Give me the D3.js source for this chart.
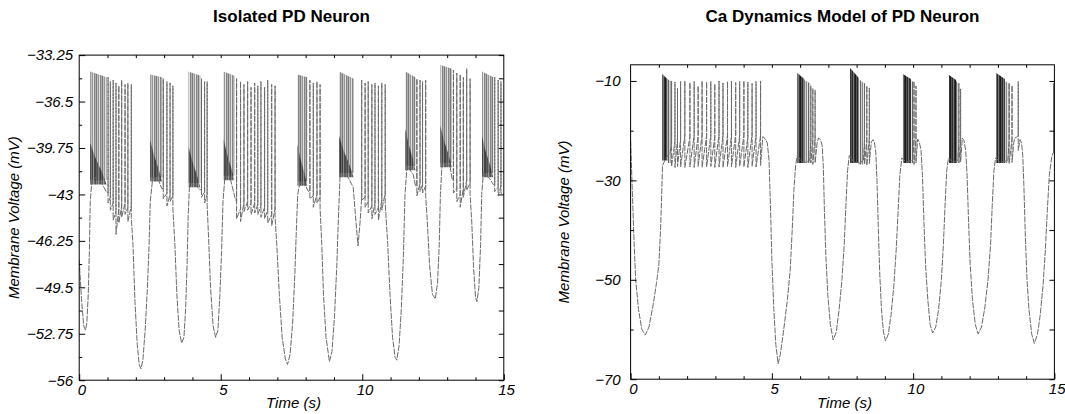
<!DOCTYPE html>
<meta charset="utf-8">
<style>
body { margin: 0; background: #fff; }
svg text { font-family: "Liberation Sans", Arial, sans-serif; }
.title { font-weight: bold; font-size: 17px; }
.axis text, .axis-title { font-style: italic; font-size: 15px; font-family: "Liberation Sans", Arial, sans-serif; }
.axis .domain { display: none; }
.frame { fill: none; stroke: #000; stroke-width: 1px; }
.trace { fill: none; stroke: #6a6a6a; stroke-width: 1px; stroke-linejoin: round; stroke-dasharray: 6 1.2; }
</style>
<body>
<script src="https://d3js.org/d3.v7.min.js"></script>
<script>

// ---- data ----
var titles = ["Isolated PD Neuron", "Ca Dynamics Model of PD Neuron"];
var xTicks = [0, 5, 10, 15];
var leftYTicks = [-56, -52.75, -49.5, -46.25, -43, -39.75, -36.5, -33.25];
var rightYTicks = [-70, -50, -30, -10];
var rightYMinor = [-60, -40, -20];

// slow (sub-threshold) trace, [time s, mV]
var leftTrace = [
  [0.00,-47.6],[0.08,-50.3],[0.16,-52.2],[0.22,-52.5],[0.27,-52.0],[0.32,-50.0],[0.36,-47.0],[0.39,-43.5],[0.45,-42.0],[0.6,-41.8],[0.8,-42.2],[0.95,-42.8],
  [1.9,-46.5],[1.97,-50.5],[2.05,-53.5],[2.12,-54.9],[2.18,-55.2],[2.25,-54.6],[2.33,-52.5],[2.41,-49.5],[2.47,-46.5],[2.51,-43.5],[2.6,-41.8],[2.8,-42.0],[2.92,-42.6],
  [3.38,-46.5],[3.45,-50.0],[3.53,-52.5],[3.62,-53.4],[3.70,-53.0],[3.76,-51.0],[3.81,-48.0],[3.85,-44.5],[3.9,-42.2],[4.1,-42.3],[4.27,-42.7],
  [4.57,-46.0],[4.64,-49.5],[4.73,-52.2],[4.82,-53.0],[4.90,-52.5],[4.97,-50.0],[5.03,-47.0],[5.08,-43.5],[5.15,-41.7],[5.35,-42.0],[5.5,-43.2],
  [6.98,-46.5],[7.07,-50.0],[7.17,-53.0],[7.28,-54.5],[7.36,-54.9],[7.45,-54.2],[7.54,-52.0],[7.62,-48.5],[7.68,-45.0],[7.72,-43.0],[7.8,-42.1],[8.0,-42.4],[8.1,-42.8],
  [8.57,-46.5],[8.63,-50.0],[8.72,-53.0],[8.84,-54.7],[8.93,-54.0],[9.02,-51.5],[9.10,-48.0],[9.16,-44.5],[9.22,-41.5],[9.5,-41.8],[9.68,-42.5],[9.76,-44.5],[9.85,-46.6],[9.92,-45.0],
  [10.9,-46.5],[10.98,-50.0],[11.07,-53.0],[11.16,-54.4],[11.22,-54.6],[11.30,-53.6],[11.38,-51.0],[11.45,-47.5],[11.51,-43.0],[11.58,-41.0],[11.8,-41.6],[11.88,-42.4],
  [12.3,-45.0],[12.38,-48.0],[12.48,-50.0],[12.58,-50.3],[12.66,-49.2],[12.72,-46.5],[12.76,-43.0],[12.82,-40.8],[13.1,-41.0],[13.18,-42.0],
  [13.87,-45.0],[13.93,-48.0],[14.00,-50.2],[14.05,-50.5],[14.12,-49.5],[14.18,-46.5],[14.22,-43.0],[14.28,-41.5],[14.5,-41.9],[14.63,-42.3],
  [15.0,-43.0]
];

// single spikes, [time, before, peak, after]
var leftSpikes = [
  [1.02,-42.9,-34.8,-43.6],[1.10,-43.2,-35.1,-44.1],[1.20,-43.6,-35.0,-44.8],[1.30,-44.2,-35.2,-45.8],[1.40,-44.0,-35.4,-45.0],
  [1.50,-43.8,-35.0,-44.6],[1.62,-43.6,-35.3,-44.4],[1.72,-43.9,-35.2,-44.9],[1.84,-43.8,-35.3,-44.6],
  [2.97,-42.6,-34.9,-43.3],[3.10,-42.9,-35.1,-43.8],[3.21,-43.0,-35.2,-43.5],[3.31,-43.1,-35.4,-44.0],
  [4.32,-42.6,-34.9,-43.2],[4.43,-42.8,-35.1,-43.6],[4.52,-43.0,-35.1,-43.7],
  [5.56,-43.5,-34.9,-44.7],[5.70,-44.0,-35.1,-44.9],[5.82,-43.6,-35.3,-44.2],[5.95,-43.5,-35.1,-44.1],[6.07,-43.6,-35.5,-44.4],[6.20,-43.6,-35.2,-44.3],
  [6.31,-43.7,-35.4,-44.4],[6.42,-43.8,-35.1,-44.6],[6.55,-43.9,-35.5,-44.7],[6.66,-44.1,-35.0,-45.0],[6.80,-44.4,-35.3,-45.2],[6.92,-44.0,-35.4,-44.6],
  [8.15,-42.8,-35.0,-43.3],[8.27,-43.1,-35.2,-43.9],[8.40,-43.0,-35.1,-43.6],[8.51,-43.2,-35.3,-44.0],
  [9.98,-43.2,-35.0,-43.4],[10.10,-43.2,-35.2,-43.9],[10.21,-43.5,-35.1,-44.3],[10.34,-43.8,-35.3,-44.7],[10.45,-43.6,-35.2,-44.4],
  [10.57,-43.9,-35.4,-44.8],[10.69,-43.4,-35.2,-44.1],[10.81,-42.9,-35.3,-43.6],
  [11.93,-42.4,-34.9,-43.1],[12.04,-42.2,-35.0,-42.8],[12.13,-42.3,-35.1,-42.9],[12.24,-42.4,-35.0,-43.1],
  [13.22,-42.0,-34.3,-42.9],[13.34,-42.6,-34.5,-43.5],[13.46,-43.0,-34.6,-43.9],[13.57,-42.6,-34.8,-43.2],[13.69,-42.0,-34.2,-42.7],[13.81,-42.2,-34.9,-43.0],
  [14.68,-42.3,-34.8,-42.8],[14.80,-42.5,-35.0,-43.1],[14.90,-42.4,-35.1,-42.9]
];

// dense spike runs at the start of each burst, [t start, t end, top at start, top at end, bottom]
var leftCores = [
  [0.39,0.97,-34.4,-34.8,-42.0],[2.51,2.93,-34.6,-34.8,-41.8],[3.86,4.28,-34.4,-34.7,-42.2],
  [5.10,5.48,-34.4,-34.7,-41.7],[7.71,8.06,-34.6,-34.8,-42.1],[9.18,9.70,-34.4,-34.9,-41.5],
  [11.52,11.88,-34.4,-34.8,-41.0],[12.76,13.17,-33.95,-34.2,-40.8],[14.23,14.63,-34.4,-34.8,-41.5]
];

var rightTrace = [
  [0.00,-22.0],[0.06,-32.0],[0.12,-42.0],[0.18,-50.0],[0.28,-56.0],[0.40,-60.0],[0.52,-61.1],[0.65,-59.5],[0.80,-55.0],[0.92,-50.5],[1.00,-47.0],[1.06,-40.0],[1.10,-33.0],[1.13,-27.0],[1.25,-25.5],[1.40,-24.5],
  [4.68,-21.2],[4.76,-21.6],[4.84,-22.5],[4.90,-26.0],[4.95,-35.0],[5.00,-46.0],[5.07,-56.0],[5.14,-63.0],[5.22,-66.9],[5.30,-65.0],[5.42,-60.0],[5.55,-54.0],[5.65,-48.0],[5.72,-40.0],[5.78,-32.0],[5.84,-27.0],[5.90,-25.0],[6.05,-26.2],[6.20,-26.4],[6.34,-26.0],
  [6.60,-22.5],[6.65,-21.5],[6.72,-21.8],[6.78,-23.0],[6.82,-27.0],[6.86,-36.0],[6.91,-45.0],[6.98,-53.0],[7.07,-59.0],[7.17,-62.1],[7.28,-60.5],[7.38,-56.0],[7.48,-50.0],[7.56,-43.0],[7.62,-35.0],[7.68,-28.0],[7.74,-25.0],[7.9,-26.3],[8.1,-26.5],[8.24,-26.0],
  [8.52,-22.3],[8.58,-21.8],[8.63,-22.3],[8.68,-24.5],[8.72,-30.0],[8.77,-40.0],[8.82,-49.0],[8.88,-56.0],[8.95,-60.5],[9.02,-62.3],[9.12,-61.0],[9.22,-57.0],[9.32,-51.0],[9.40,-44.0],[9.47,-36.0],[9.53,-29.0],[9.60,-25.5],[9.75,-26.3],[9.98,-26.0],
  [10.16,-21.7],[10.22,-22.3],[10.28,-24.0],[10.33,-29.0],[10.38,-38.0],[10.44,-47.0],[10.52,-54.0],[10.60,-59.0],[10.69,-60.7],[10.80,-59.5],[10.90,-56.0],[11.00,-50.0],[11.07,-43.0],[11.13,-35.0],[11.19,-28.0],[11.25,-25.5],[11.4,-26.3],[11.58,-26.0],
  [11.74,-21.5],[11.80,-22.0],[11.86,-24.0],[11.91,-29.0],[11.96,-38.0],[12.02,-47.0],[12.10,-54.0],[12.20,-59.0],[12.30,-60.9],[12.42,-59.5],[12.54,-55.5],[12.65,-50.0],[12.74,-43.0],[12.80,-35.0],[12.86,-28.0],[12.92,-25.5],[13.1,-26.4],[13.35,-26.0],
  [13.56,-22.5],[13.60,-21.5],[13.66,-21.3],
  [13.78,-21.8],[13.84,-22.5],[13.88,-25.0],[13.92,-31.0],[13.97,-41.0],[14.03,-50.0],[14.10,-56.0],[14.20,-61.0],[14.29,-62.8],[14.40,-61.0],[14.50,-57.0],[14.60,-51.0],[14.68,-44.0],[14.75,-36.0],[14.82,-29.0],[14.90,-25.5],[14.95,-24.5],
  [15.0,-23.5]
];

var rightSpikes = [
  [1.45,-22.5,-10.0,-27.2],[1.57,-22.0,-10.2,-27.4],[1.66,-21.8,-11.5,-27.2],[1.77,-21.6,-10.1,-27.3],[1.92,-21.0,-10.0,-27.4],
  [2.10,-21.2,-10.3,-27.3],[2.25,-20.8,-10.1,-27.4],[2.39,-21.0,-11.0,-27.2],[2.53,-20.8,-10.0,-27.4],[2.69,-21.1,-10.2,-27.3],
  [2.84,-20.9,-10.1,-27.2],[2.98,-21.2,-10.6,-27.4],[3.13,-20.8,-10.0,-27.3],[3.27,-21.0,-10.4,-27.4],[3.43,-20.9,-10.1,-27.2],
  [3.57,-21.1,-10.0,-27.3],[3.72,-20.8,-10.3,-27.4],[3.86,-21.0,-10.1,-27.2],[4.01,-20.9,-10.0,-27.3],[4.15,-21.2,-10.2,-27.4],
  [4.30,-20.8,-10.5,-27.2],[4.44,-21.0,-10.1,-27.3],[4.60,-21.0,-10.0,-27.0],
  [6.38,-22.0,-11.0,-26.5],[6.45,-21.8,-11.5,-26.8],[6.53,-21.5,-11.8,-26.5],
  [8.28,-22.0,-10.5,-26.8],[8.36,-21.8,-11.0,-27.0],[8.45,-21.5,-11.4,-26.6],
  [10.03,-22.0,-10.1,-26.8],[10.10,-21.8,-11.0,-26.5],
  [11.62,-22.2,-10.5,-26.5],[11.68,-21.8,-11.6,-26.3],
  [13.40,-22.0,-10.4,-26.6],[13.50,-21.6,-10.9,-26.4],
  [13.72,-21.0,-10.1,-24.0],
  [14.97,-24.5,-10.5,-24.0]
];

var rightCoresDark = [
  [1.12,1.30,-8.6,-9.6,-26.0],[5.90,6.15,-8.4,-9.6,-26.5],[7.77,8.08,-7.4,-9.4,-26.5],
  [9.64,9.92,-8.6,-9.6,-26.5],[11.27,11.52,-8.8,-9.8,-26.5],[12.94,13.25,-8.4,-9.6,-26.5]
];
var rightCoresLight = [
  [1.30,1.42,-9.6,-10.0,-26.5],[6.15,6.36,-9.8,-10.5,-26.5],[8.08,8.26,-9.6,-10.5,-26.8],
  [9.92,10.0,-9.8,-10.2,-26.5],[11.52,11.6,-10.0,-10.5,-26.5],[13.25,13.37,-10.0,-10.4,-26.5]
];

// ---- drawing ----
var svg = d3.select("body").append("svg")
    .attr("width", 1065)
    .attr("height", 414);

// striped fills so the dense runs read as many thin spikes
var defs = svg.append("defs");
function stripes(id, shades) {
  var pat = defs.append("pattern").attr("id", id)
      .attr("patternUnits", "userSpaceOnUse")
      .attr("width", shades.length).attr("height", 4);
  shades.forEach(function(c, i) {
    pat.append("rect").attr("x", i).attr("y", 0).attr("width", 1).attr("height", 4).attr("fill", c);
  });
}
stripes("grayStripes", ["#7a7a7a", "#c4c4c4", "#959595", "#e2e2e2", "#858585", "#b0b0b0"]);
stripes("darkStripes", ["#1a1a1a", "#555", "#2a2a2a", "#777", "#333"]);
stripes("lightStripes", ["#666", "#d0d0d0", "#888", "#e6e6e6"]);

function fmt(d) { return (d < 0 ? "\u2212" : "") + Math.abs(d); }

function drawPanel(p) {
  var x = d3.scaleLinear().domain([0, 15]).range([p.left, p.right]);
  var y = d3.scaleLinear().domain(p.yDomain).range([p.bottom, p.top]);
  var g = svg.append("g");

  g.append("text").attr("class", "title")
      .attr("x", (p.left + p.right) / 2).attr("y", 22)
      .attr("text-anchor", "middle").text(p.title);

  var clip = "clip" + p.id;
  g.append("clipPath").attr("id", clip).append("rect")
      .attr("x", p.left).attr("y", p.top)
      .attr("width", p.right - p.left).attr("height", p.bottom - p.top);
  var plot = g.append("g").attr("clip-path", "url(#" + clip + ")");

  var poly = d3.line().x(function(d) { return x(d[0]); }).y(function(d) { return y(d[1]); });

  // dense parts of the bursts
  p.cores.forEach(function(c) {
    plot.append("path")
        .attr("d", poly([[c[0], c[4]], [c[0], c[2]], [c[1], c[3]], [c[1], c[4]]]) + "Z")
        .attr("fill", p.coreFill);
  });
  (p.darkCores || []).forEach(function(c) {
    plot.append("path")
        .attr("d", poly([[c[0], c[4]], [c[0], c[2]], [c[1], c[3]], [c[1], c[4]]]) + "Z")
        .attr("fill", "url(#darkStripes)");
  });
  if (p.darkBase) {
    p.cores.forEach(function(c) {
      var w = c[1] - c[0];
      plot.append("path")
          .attr("d", poly([[c[0], c[4] - 0.3], [c[0], c[4] + 2.6], [c[0] + w * 0.3, c[4] + 1.6],
                           [c[0] + w * 0.7, c[4] + 0.6], [c[1], c[4] - 0.3]]) + "Z")
          .attr("fill", "url(#darkStripes)").attr("fill-opacity", 0.75);
    });
  }

  // merge slow trace with spike up/down strokes in time order
  var pts = p.trace.map(function(d) { return {t: d[0], v: d[1], k: 0}; });
  p.spikes.forEach(function(s) {
    pts.push({t: s[0], v: s[1], k: 1}, {t: s[0], v: s[2], k: 2}, {t: s[0], v: s[3], k: 3});
  });
  pts.sort(function(a, b) { return a.t - b.t || a.k - b.k; });

  var line = d3.line().x(function(d) { return x(d.t); }).y(function(d) { return y(d.v); });
  plot.append("path").datum(pts).attr("class", "trace").attr("d", line);

  // axes, ticks pointing inward
  var minorX = d3.range(0, 16).filter(function(d) { return d % 5 !== 0; });
  g.append("g").attr("class", "axis").attr("transform", "translate(0," + p.bottom + ")")
      .call(d3.axisBottom(x).tickValues(xTicks).tickSize(-6).tickPadding(4).tickFormat(fmt))
      .selectAll("text").attr("dx", "0.15em");
  g.append("g").attr("class", "axis").attr("transform", "translate(0," + p.bottom + ")")
      .call(d3.axisBottom(x).tickValues(minorX).tickSize(-3).tickFormat(""));
  g.append("g").attr("class", "axis").attr("transform", "translate(0," + p.top + ")")
      .call(d3.axisTop(x).tickValues(d3.range(1, 15)).tickSize(-3).tickFormat(""));

  g.append("g").attr("class", "axis").attr("transform", "translate(" + p.left + ",0)")
      .call(d3.axisLeft(y).tickValues(p.yTicks).tickSize(-6).tickPadding(p.labelGap).tickFormat(fmt));
  g.append("g").attr("class", "axis").attr("transform", "translate(" + p.left + ",0)")
      .call(d3.axisLeft(y).tickValues(p.yMinor).tickSize(-3).tickFormat(""));
  g.append("g").attr("class", "axis").attr("transform", "translate(" + p.right + ",0)")
      .call(d3.axisRight(y).tickValues(p.yTicks.concat(p.yMinor)).tickSize(-5).tickFormat(""));

  g.append("rect").attr("class", "frame")
      .attr("x", p.left).attr("y", p.top)
      .attr("width", p.right - p.left).attr("height", p.bottom - p.top);

  g.append("text").attr("class", "axis-title")
      .attr("x", (p.left + p.right) / 2 + 2).attr("y", 408)
      .attr("text-anchor", "middle").text("Time (s)");
  g.append("text").attr("class", "axis-title")
      .attr("transform", "translate(" + p.yTitleX + "," + ((p.top + p.bottom) / 2) + ") rotate(-90)")
      .attr("text-anchor", "middle").text("Membrane Voltage (mV)");
}

// minor ticks for the left panel sit halfway between the labelled ones
var leftYMinor = leftYTicks.slice(1).map(function(d, i) { return (d + leftYTicks[i]) / 2; });

drawPanel({
  id: "L", title: titles[0],
  left: 79.2, right: 503.8, top: 55.1, bottom: 380.2,
  yDomain: [-56, -33.25], yTicks: leftYTicks, yMinor: leftYMinor, labelGap: 6, yTitleX: 19,
  trace: leftTrace, spikes: leftSpikes, cores: leftCores, coreFill: "url(#grayStripes)", darkBase: true
});

drawPanel({
  id: "R", title: titles[1],
  left: 630.6, right: 1054.4, top: 64.8, bottom: 379.2,
  yDomain: [-70, -6.75], yTicks: rightYTicks, yMinor: rightYMinor, labelGap: 10, yTitleX: 569,
  trace: rightTrace, spikes: rightSpikes, cores: rightCoresLight, darkCores: rightCoresDark, coreFill: "url(#lightStripes)"
});

</script>
</body>
